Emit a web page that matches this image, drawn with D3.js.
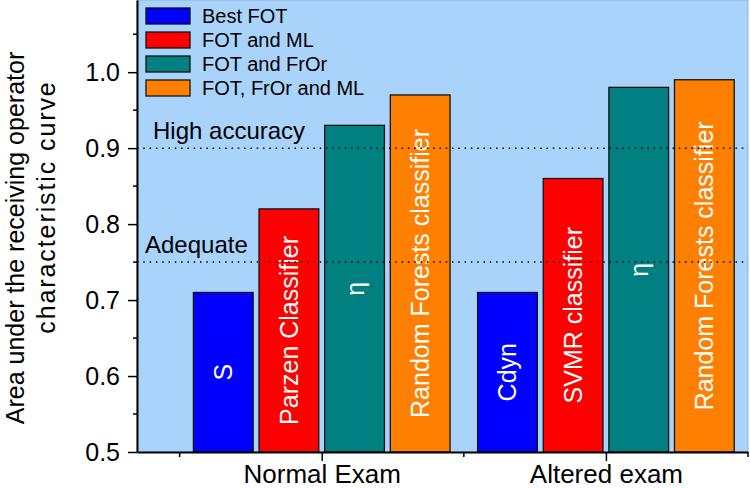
<!DOCTYPE html>
<html>
<head>
<meta charset="utf-8">
<script src="https://cdn.jsdelivr.net/npm/d3@7"></script>
<style>
  body { margin: 0; background: #fff; }
  text { font-family: "Liberation Sans", Arial, sans-serif; }
</style>
</head>
<body>
<div id="chart"></div>
<script>
// data
const groups = ["Normal Exam", "Altered exam"];
const series = ["Best FOT", "FOT and ML", "FOT and FrOr", "FOT, FrOr and ML"];
const normalValues = [0.71, 0.82, 0.93, 0.97];
const alteredValues = [0.71, 0.86, 0.98, 0.99];
const normalLabels = ["S", "Parzen Classifier", "\u03b7", "Random Forests classifier"];
const alteredLabels = ["Cdyn", "SVMR classifier", "\u03b7", "Random Forests classifier"];
const yTicks = [0.5, 0.6, 0.7, 0.8, 0.9, 1.0];
const thresholds = [
  { name: "High accuracy", value: 0.9 },
  { name: "Adequate", value: 0.75 }
];
const colors = ["#0000ff", "#ff0000", "#008080", "#ff8000"];

const width = 750, height = 488;
const plot = { left: 137, right: 748, top: 0, bottom: 452 };

const svg = d3.select("#chart")
  .append("svg")
    .attr("width", width)
    .attr("height", height);

// scales
const xScale = d3.scaleLinear()
  .domain([0.35, 2.5])
  .range([plot.left, plot.right]);
const subScale = d3.scaleBand()
  .domain(series)
  .range([-0.4515, 0.4515])
  .paddingInner(0.09);
const yScale = d3.scaleLinear()
  .domain([0.5, 1.095])
  .range([plot.bottom, plot.top]);
const colorScale = d3.scaleOrdinal().domain(series).range(colors);

// background
svg.append("rect")
  .attr("x", plot.left)
  .attr("y", plot.top)
  .attr("width", plot.right - plot.left)
  .attr("height", plot.bottom - plot.top)
  .attr("fill", "#aad3fb")
  .attr("stroke", "#8fb0d0")
  .attr("stroke-width", 1);

// bars
const rows = [];
groups.forEach((g, gi) => {
  const vals = gi === 0 ? normalValues : alteredValues;
  const labs = gi === 0 ? normalLabels : alteredLabels;
  series.forEach((s, si) => {
    rows.push({ group: g, pos: gi + 1, series: s, value: vals[si], label: labs[si] });
  });
});

const barX = d => xScale(d.pos + subScale(d.series));
const barW = d => xScale(d.pos + subScale(d.series) + subScale.bandwidth()) - barX(d);

svg.append("g")
  .selectAll("rect")
  .data(rows)
  .join("rect")
    .attr("x", barX)
    .attr("y", d => yScale(d.value))
    .attr("width", barW)
    .attr("height", d => yScale(0.5) - yScale(d.value))
    .attr("fill", d => colorScale(d.series))
    .attr("stroke", "#111")
    .attr("stroke-width", 1.3);

// labels inside bars
svg.append("g")
  .selectAll("text")
  .data(rows)
  .join("text")
    .attr("transform", d => {
      const cx = barX(d) + barW(d) / 2;
      const cy = (yScale(d.value) + yScale(0.5)) / 2;
      return `translate(${cx}, ${cy}) rotate(-90)`;
    })
    .attr("text-anchor", "middle")
    .attr("dy", "0.36em")
    .attr("fill", "#fff")
    .attr("font-size", 25)
    .text(d => d.label);

// dotted threshold lines + their names
const thr = svg.append("g");
thr.selectAll("line")
  .data(thresholds)
  .join("line")
    .attr("x1", plot.left)
    .attr("x2", plot.right)
    .attr("y1", d => yScale(d.value))
    .attr("y2", d => yScale(d.value))
    .attr("stroke", "#000")
    .attr("stroke-width", 1.5)
    .attr("stroke-dasharray", "1.5,4.8");
thr.selectAll("text")
  .data(thresholds)
  .join("text")
    .attr("x", (d, i) => i === 0 ? 153 : 145)
    .attr("y", d => yScale(d.value) - 9)
    .attr("font-size", 24)
    .attr("fill", "#000")
    .text(d => d.name);

// left axis
const leftAxis = svg.append("g")
  .attr("transform", `translate(${plot.left}, 0)`)
  .call(d3.axisLeft(yScale)
    .tickValues(yTicks)
    .tickFormat(d3.format(".1f"))
    .tickSize(9)
    .tickPadding(8)
    .tickSizeOuter(0));
leftAxis.select(".domain").attr("stroke-width", 2);
leftAxis.selectAll(".tick line").attr("stroke-width", 1.5);
leftAxis.selectAll(".tick text")
  .attr("font-size", 25)
  .attr("font-family", "'Liberation Sans', Arial, sans-serif")
  .attr("fill", "#000");

// minor y ticks
svg.append("g")
  .selectAll("line")
  .data(d3.range(0.55, 1.09, 0.1))
  .join("line")
    .attr("x1", plot.left - 4)
    .attr("x2", plot.left)
    .attr("y1", d => yScale(d))
    .attr("y2", d => yScale(d))
    .attr("stroke", "#000")
    .attr("stroke-width", 1.5);

// bottom axis
const bottomAxis = svg.append("g")
  .attr("transform", `translate(0, ${plot.bottom})`)
  .call(d3.axisBottom(xScale)
    .tickValues([1, 2])
    .tickFormat((d, i) => groups[i])
    .tickSize(9)
    .tickPadding(4)
    .tickSizeOuter(0));
bottomAxis.select(".domain").attr("stroke-width", 2);
bottomAxis.selectAll(".tick line").attr("stroke-width", 1.5);
bottomAxis.selectAll(".tick text")
  .attr("font-size", 26)
  .attr("font-family", "'Liberation Sans', Arial, sans-serif")
  .attr("fill", "#000");

// minor x ticks
svg.append("g")
  .selectAll("line")
  .data([0.5, 1.5, 2.5])
  .join("line")
    .attr("x1", d => xScale(d))
    .attr("x2", d => xScale(d))
    .attr("y1", plot.bottom)
    .attr("y2", plot.bottom + 5)
    .attr("stroke", "#000")
    .attr("stroke-width", 1.5);

// y title (two lines)
const yTitle = svg.append("text")
  .attr("transform", "rotate(-90)")
  .attr("text-anchor", "middle")
  .attr("font-size", 25)
  .attr("fill", "#000");
yTitle.append("tspan").attr("x", -238).attr("y", 24).text("Area under the receiving operator");
yTitle.append("tspan").attr("x", -207).attr("y", 55)
  .attr("letter-spacing", 1.9)
  .text("characteristic curve");

// legend
const legend = svg.append("g")
  .attr("transform", "translate(146, 8)");
const item = legend.selectAll("g")
  .data(series)
  .join("g")
    .attr("transform", (d, i) => `translate(0, ${i * 24})`);
item.append("rect")
  .attr("width", 44)
  .attr("height", 16)
  .attr("fill", d => colorScale(d))
  .attr("stroke", "#111")
  .attr("stroke-width", 1.3);
item.append("text")
  .attr("x", 56)
  .attr("y", 15)
  .attr("font-size", 20)
  .attr("fill", "#000")
  .text(d => d);
</script>
</body>
</html>
